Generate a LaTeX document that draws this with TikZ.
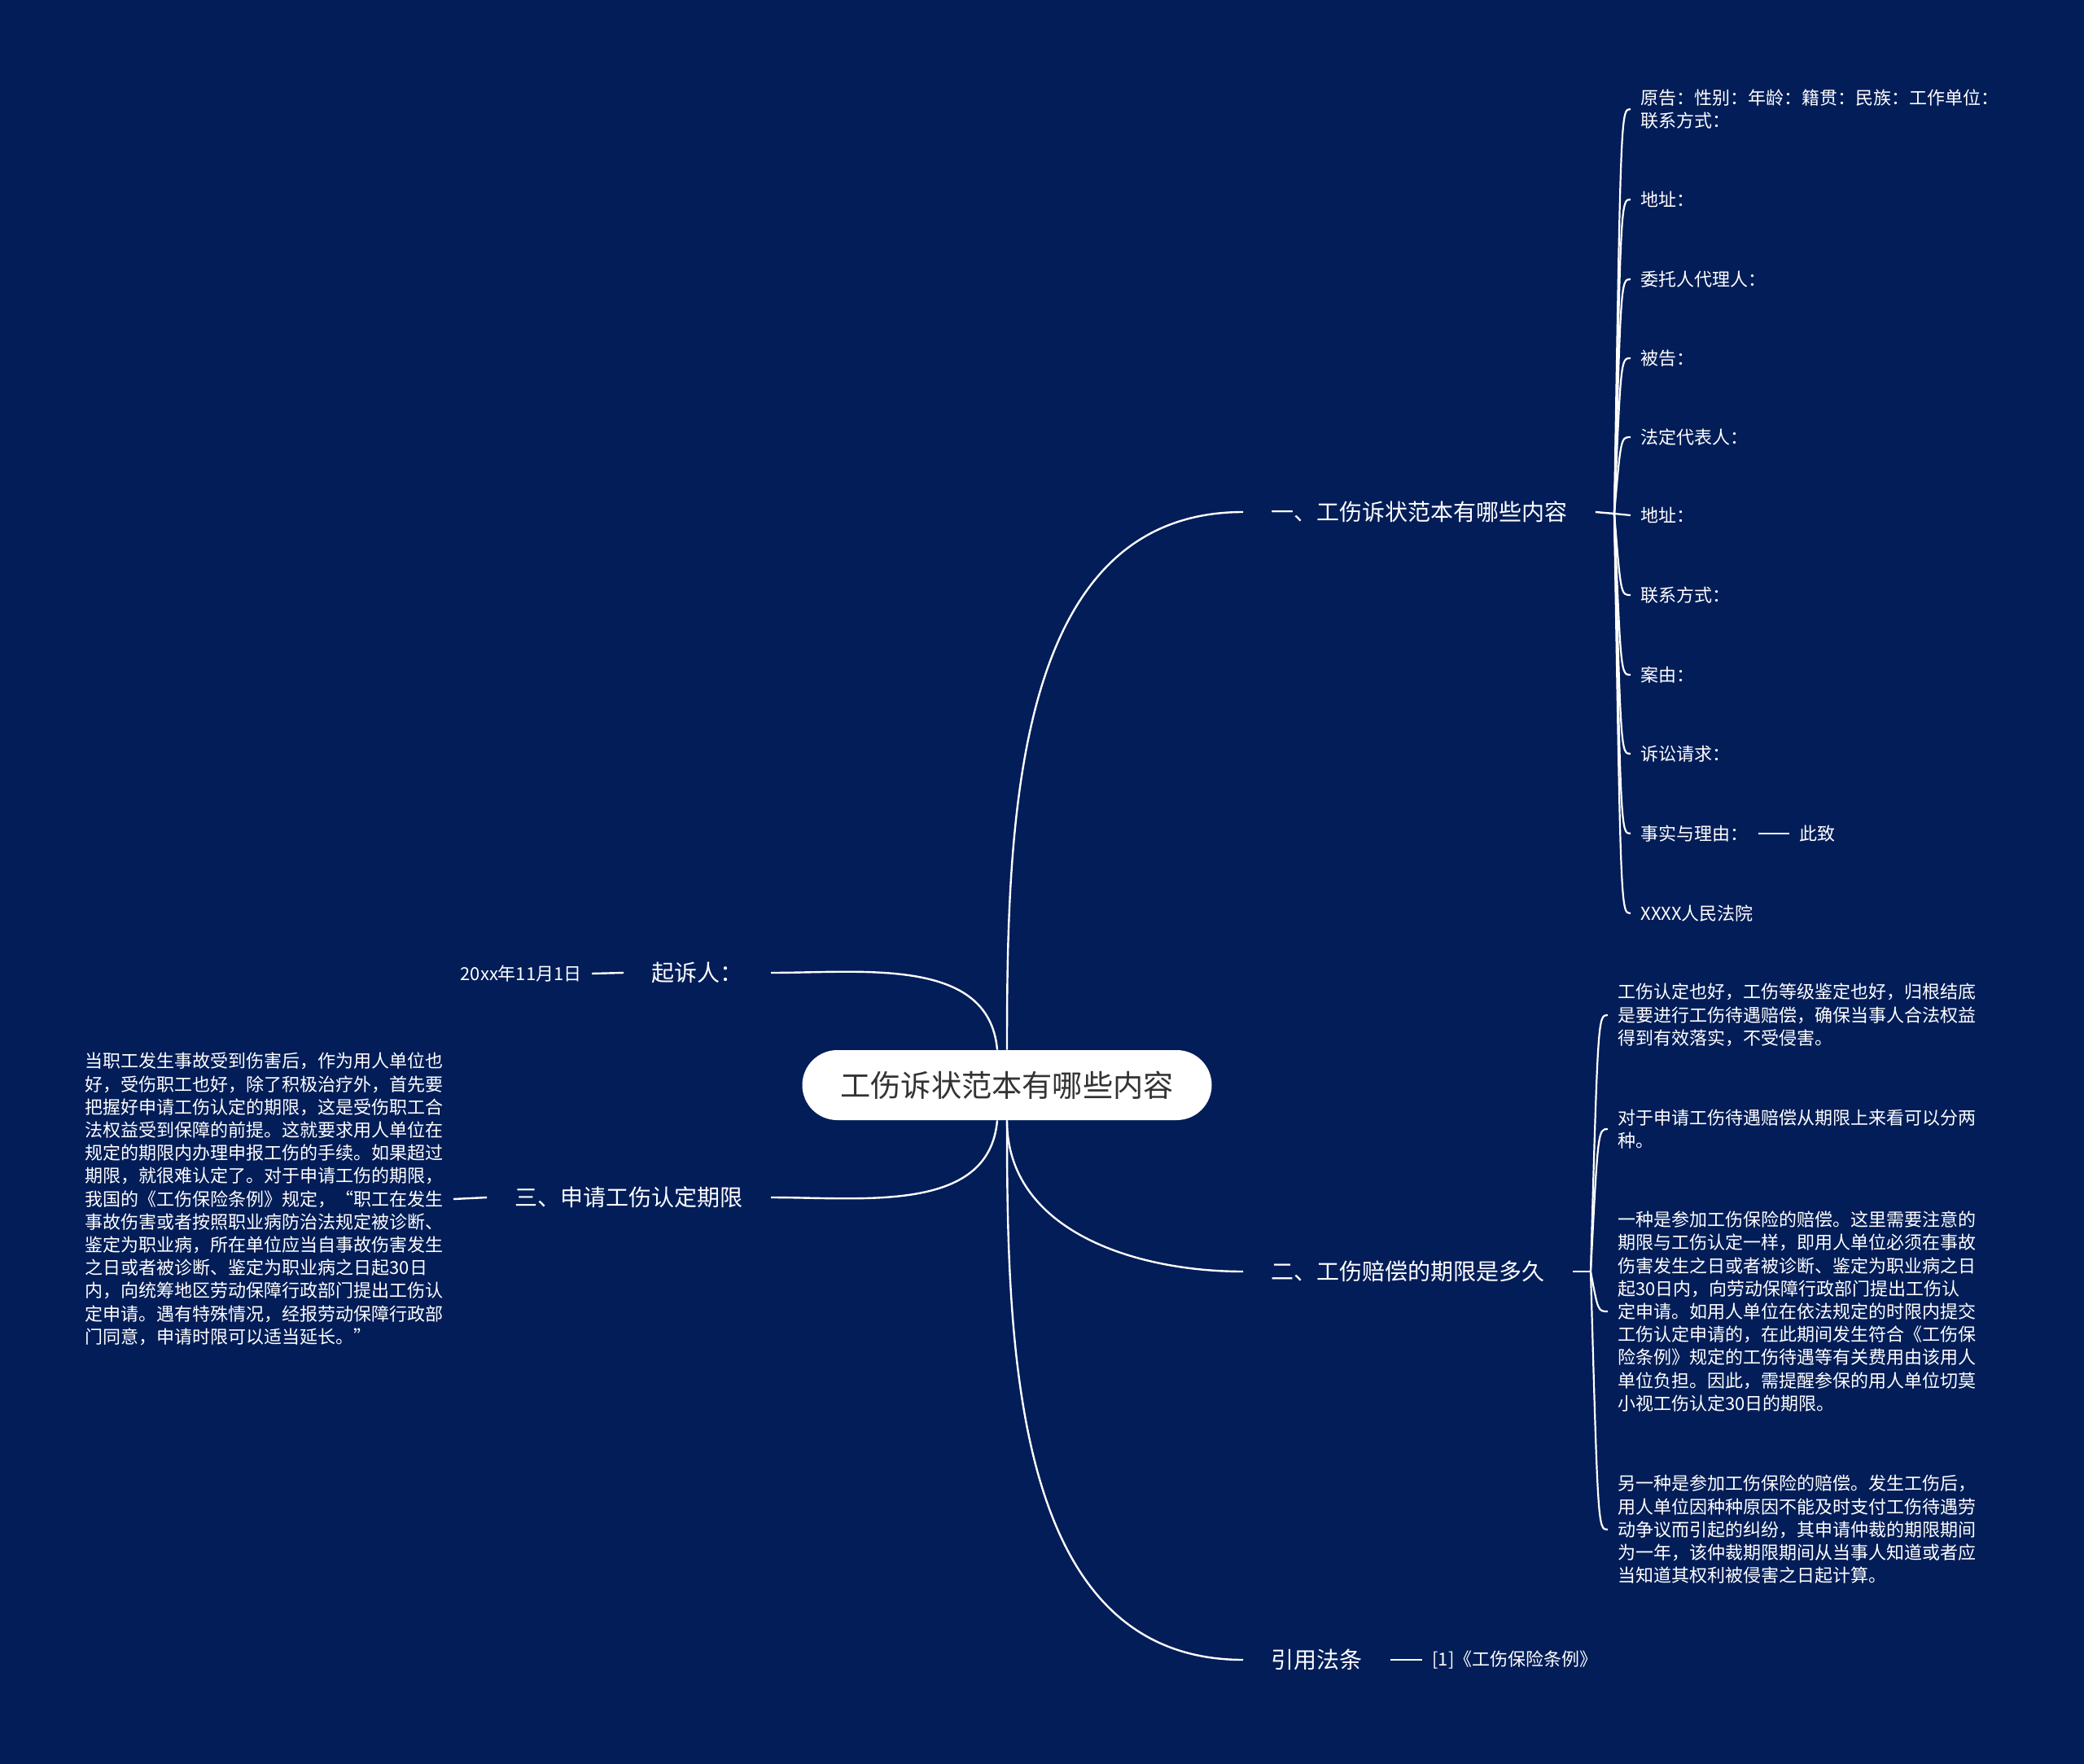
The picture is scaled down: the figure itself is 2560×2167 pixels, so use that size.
\documentclass[tikz,border=0pt]{standalone}
\usepackage{fontspec}
\setmainfont{Noto Sans CJK SC}
\definecolor{navy}{RGB}{2,29,88}
\definecolor{inkgray}{RGB}{51,51,51}
\tikzset{
  rootbox/.style={fill=white, text=inkgray, rounded corners=21.5pt, minimum width=251.5pt, minimum height=43pt, font=\fontsize{18.6}{22}\selectfont},
  branch/.style={text=white, inner xsep=17pt, inner ysep=2pt, font=\fontsize{14}{17}\selectfont},
  leaf/.style={text=white, inner xsep=6pt, inner ysep=2pt, align=left, font=\fontsize{11}{14.1}\selectfont},
  limb/.style={white, line width=1.2pt},
  twig/.style={white, line width=1.1pt},
}
\begin{document}
\begin{tikzpicture}[x=0.5pt,y=-0.5pt]
    \fill[navy] (0,0) rectangle (2560,2167);
    \useasboundingbox (0,0) rectangle (2560,2167);

    % centre
    \node[rootbox] (root) at (1237,1333) {工伤诉状范本有哪些内容};

    % branches
    \node[branch, anchor=west] (one) at (1527,629) {一、工伤诉状范本有哪些内容};
    \node[branch, anchor=west] (two) at (1527,1562) {二、工伤赔偿的期限是多久};
    \node[branch, anchor=west] (law) at (1527,2039) {引用法条};
    \node[branch, anchor=east] (sue) at (947,1195) {起诉人：};
    \node[branch, anchor=east] (three) at (947,1471) {三、申请工伤认定期限};

    \draw[limb] (root.north) to[out=90,in=180] (one.west);
    \draw[limb] (root.south) to[out=-90,in=180] (two.west);
    \draw[limb] (root.south) to[out=-90,in=180] (law.west);
    \draw[limb] ([xshift=-6pt]root.north) to[out=95,in=0] (sue.east);
    \draw[limb] ([xshift=-6pt]root.south) to[out=-95,in=0] (three.east);

    % leaves of one
    \coordinate (j1) at (1983,631);
    \node[leaf, anchor=west] (p1) at (2003,134) {原告：性别：年龄：籍贯：民族：工作单位：\\联系方式：};
    \node[leaf, anchor=west] (p2) at (2003,245) {地址：};
    \node[leaf, anchor=west] (p3) at (2003,343) {委托人代理人：};
    \node[leaf, anchor=west] (p4) at (2003,440) {被告：};
    \node[leaf, anchor=west] (p5) at (2003,537) {法定代表人：};
    \node[leaf, anchor=west] (p6) at (2003,633) {地址：};
    \node[leaf, anchor=west] (p7) at (2003,731) {联系方式：};
    \node[leaf, anchor=west] (p8) at (2003,829) {案由：};
    \node[leaf, anchor=west] (p9) at (2003,926) {诉讼请求：};
    \node[leaf, anchor=west] (p10) at (2003,1024) {事实与理由：};
    \node[leaf, anchor=west] (p11) at (2003,1122) {XXXX人民法院};
    \node[leaf, anchor=west] (zhi) at (2198,1024) {此致};

    \draw[limb] (one.east) -- (j1);
    \draw[twig] (j1) .. controls ([xshift=-6pt]p1.west) .. (p1.west);
    \draw[twig] (j1) .. controls ([xshift=-6pt]p2.west) .. (p2.west);
    \draw[twig] (j1) .. controls ([xshift=-6pt]p3.west) .. (p3.west);
    \draw[twig] (j1) .. controls ([xshift=-6pt]p4.west) .. (p4.west);
    \draw[twig] (j1) .. controls ([xshift=-6pt]p5.west) .. (p5.west);
    \draw[twig] (j1) -- (p6.west);
    \draw[twig] (j1) .. controls ([xshift=-6pt]p7.west) .. (p7.west);
    \draw[twig] (j1) .. controls ([xshift=-6pt]p8.west) .. (p8.west);
    \draw[twig] (j1) .. controls ([xshift=-6pt]p9.west) .. (p9.west);
    \draw[twig] (j1) .. controls ([xshift=-6pt]p10.west) .. (p10.west);
    \draw[twig] (j1) .. controls ([xshift=-6pt]p11.west) .. (p11.west);
    \draw[limb] (p10.east) -- (zhi.west);

    % leaves of two
    \coordinate (j2) at (1954,1562);
    \node[leaf, anchor=west] (q1) at (1975,1247) {工伤认定也好，工伤等级鉴定也好，归根结底\\是要进行工伤待遇赔偿，确保当事人合法权益\\得到有效落实，不受侵害。};
    \node[leaf, anchor=west] (q2) at (1975,1387) {对于申请工伤待遇赔偿从期限上来看可以分两\\种。};
    \node[leaf, anchor=west] (q3) at (1975,1611) {一种是参加工伤保险的赔偿。这里需要注意的\\期限与工伤认定一样，即用人单位必须在事故\\伤害发生之日或者被诊断、鉴定为职业病之日\\起30日内，向劳动保障行政部门提出工伤认\\定申请。如用人单位在依法规定的时限内提交\\工伤认定申请的，在此期间发生符合《工伤保\\险条例》规定的工伤待遇等有关费用由该用人\\单位负担。因此，需提醒参保的用人单位切莫\\小视工伤认定30日的期限。};
    \node[leaf, anchor=west] (q4) at (1975,1879) {另一种是参加工伤保险的赔偿。发生工伤后，\\用人单位因种种原因不能及时支付工伤待遇劳\\动争议而引起的纠纷，其申请仲裁的期限期间\\为一年，该仲裁期限期间从当事人知道或者应\\当知道其权利被侵害之日起计算。};

    \draw[limb] (two.east) -- (j2);
    \draw[twig] (j2) .. controls ([xshift=-6pt]q1.west) .. (q1.west);
    \draw[twig] (j2) .. controls ([xshift=-6pt]q2.west) .. (q2.west);
    \draw[twig] (j2) .. controls ([xshift=-6pt]q3.west) .. (q3.west);
    \draw[twig] (j2) .. controls ([xshift=-6pt]q4.west) .. (q4.west);

    % other leaves
    \node[leaf, anchor=west] (rule) at (1747,2039) {[1]《工伤保险条例》};
    \node[leaf, anchor=east] (date) at (727,1196) {20xx年11月1日};
    \node[leaf, anchor=east] (limit) at (557,1473) {当职工发生事故受到伤害后，作为用人单位也\\好，受伤职工也好，除了积极治疗外，首先要\\把握好申请工伤认定的期限，这是受伤职工合\\法权益受到保障的前提。这就要求用人单位在\\规定的期限内办理申报工伤的手续。如果超过\\期限，就很难认定了。对于申请工伤的期限，\\我国的《工伤保险条例》规定，“职工在发生\\事故伤害或者按照职业病防治法规定被诊断、\\鉴定为职业病，所在单位应当自事故伤害发生\\之日或者被诊断、鉴定为职业病之日起30日\\内，向统筹地区劳动保障行政部门提出工伤认\\定申请。遇有特殊情况，经报劳动保障行政部\\门同意，申请时限可以适当延长。”};

    \draw[limb] (law.east) -- (rule.west);
    \draw[limb] (sue.west) -- (date.east);
    \draw[limb] (three.west) -- (limit.east);
\end{tikzpicture}
\end{document}
